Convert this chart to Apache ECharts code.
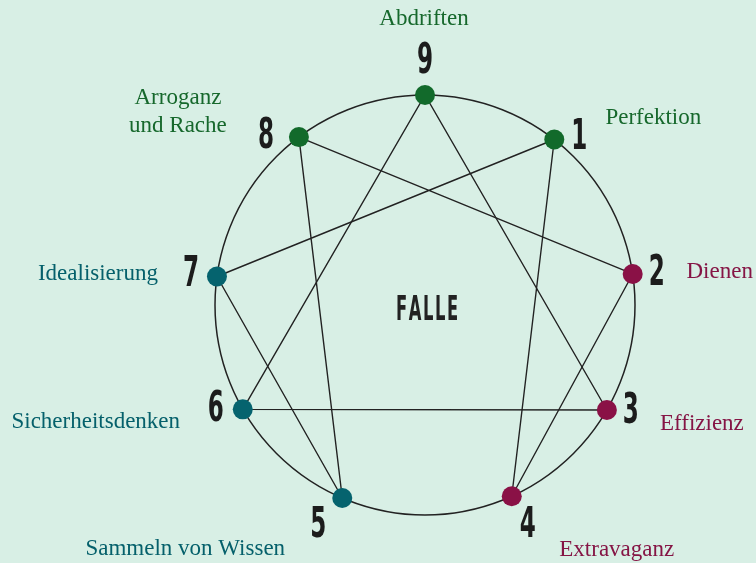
<!DOCTYPE html>
<html>
<head>
<meta charset="utf-8">
<script src="https://cdn.jsdelivr.net/npm/echarts@6/dist/echarts.min.js"></script>
<style>
  html, body { margin: 0; padding: 0; background: #d8efe5; }
  #chart { width: 756px; height: 563px; }
</style>
</head>
<body>
<div id="chart"></div>
<script>
// Punkte des Enneagramms, Winkel im Uhrzeigersinn ab oben
const points = ['9', '1', '2', '3', '4', '5', '6', '7', '8'];
const angles = [0, 38, 81.5, 120, 155.6, 203.2, 240.2, 277.8, 323.1];
const names = [
    'Abdriften', 'Perfektion', 'Dienen', 'Effizienz', 'Extravaganz',
    'Sammeln von Wissen', 'Sicherheitsdenken', 'Idealisierung', 'Arroganz\nund Rache'
];
const groups = ['green', 'green', 'red', 'red', 'red', 'teal', 'teal', 'teal', 'green'];
const triangle = ['9', '3', '6', '9'];
const hexad = ['1', '4', '2', '8', '5', '7', '1'];
const centerText = 'FALLE';

// Layout: Versatz der Beschriftungen relativ zum Punkt (px)
const numberOffset = [[0, -33], [25, -1], [24, 0], [24, 2], [16, 30], [-24, 28], [-27, 1], [-26, -1], [-33, 0]];
const nameOffset = [[-1, -76], [99, -22], [87, -2], [95, 14], [105, 54], [-157, 51], [-147, 13], [-119, -3], [-121, -25]];

const dotColors = { green: '#126a2b', red: '#8a1146', teal: '#05636e' };
const textColors = { green: '#16682c', red: '#851545', teal: '#05606b' };

const chart = echarts.init(document.getElementById('chart'), null, { renderer: 'canvas' });

function pointData(key) {
    const i = points.indexOf(key);
    return [1, angles[i]];
}

const lineStyle = { color: '#222', width: 1.4 };

const option = {
    backgroundColor: '#d8efe5',
    animation: false,
    polar: {
        center: [425, 305],
        radius: 210
    },
    angleAxis: {
        type: 'value',
        min: 0,
        max: 360,
        startAngle: 90,
        clockwise: true,
        axisLine: { show: true, lineStyle: { color: '#222', width: 1.5 } },
        axisTick: { show: false },
        axisLabel: { show: false },
        splitLine: { show: false }
    },
    radiusAxis: {
        type: 'value',
        min: 0,
        max: 1,
        axisLine: { show: false },
        axisTick: { show: false },
        axisLabel: { show: false },
        splitLine: { show: false }
    },
    series: [
        {
            type: 'line',
            coordinateSystem: 'polar',
            data: triangle.map(pointData),
            symbol: 'none',
            lineStyle: lineStyle,
            z: 2
        },
        {
            type: 'line',
            coordinateSystem: 'polar',
            data: hexad.map(pointData),
            symbol: 'none',
            lineStyle: lineStyle,
            z: 2
        },
        {
            type: 'scatter',
            coordinateSystem: 'polar',
            symbolSize: 20,
            z: 5,
            data: points.map(function (p, i) {
                return {
                    value: [1, angles[i]],
                    itemStyle: { color: dotColors[groups[i]], opacity: 1 }
                };
            })
        },
        {
            type: 'scatter',
            coordinateSystem: 'polar',
            symbolSize: 0,
            silent: true,
            z: 6,
            itemStyle: { opacity: 1 },
            data: names.map(function (n, i) {
                return {
                    value: [1, angles[i]],
                    label: {
                        show: true,
                        formatter: n,
                        position: 'inside',
                        offset: nameOffset[i],
                        fontFamily: 'Liberation Serif',
                        fontSize: 23,
                        lineHeight: 28,
                        color: textColors[groups[i]],
                        opacity: 1
                    }
                };
            })
        }
    ]
};

chart.setOption(option);

// Schmale Ziffern und Mitteltext: Position über die Polar-Skala, horizontal gestaucht
const graphics = points.map(function (p, i) {
    const pos = chart.convertToPixel({ polarIndex: 0 }, [1, angles[i]]);
    return {
        type: 'text',
        x: pos[0] + numberOffset[i][0],
        y: pos[1] + numberOffset[i][1],
        scaleX: 0.55,
        z: 10,
        style: {
            text: p,
            fontFamily: 'DejaVu Sans',
            fontWeight: 'bold',
            fontSize: 42,
            fill: '#1c1c1c',
            align: 'center',
            verticalAlign: 'middle'
        }
    };
});

const center = chart.convertToPixel({ polarIndex: 0 }, [0, 0]);
graphics.push({
    type: 'text',
    x: center[0] + 2,
    y: center[1] + 6,
    scaleX: 0.48,
    z: 10,
    style: {
        text: centerText.split('').join('\u200a'),
        fontFamily: 'DejaVu Sans',
        fontWeight: 'bold',
        fontSize: 34,
        fill: '#222',
        align: 'center',
        verticalAlign: 'middle'
    }
});

chart.setOption({ graphic: graphics });
</script>
</body>
</html>
